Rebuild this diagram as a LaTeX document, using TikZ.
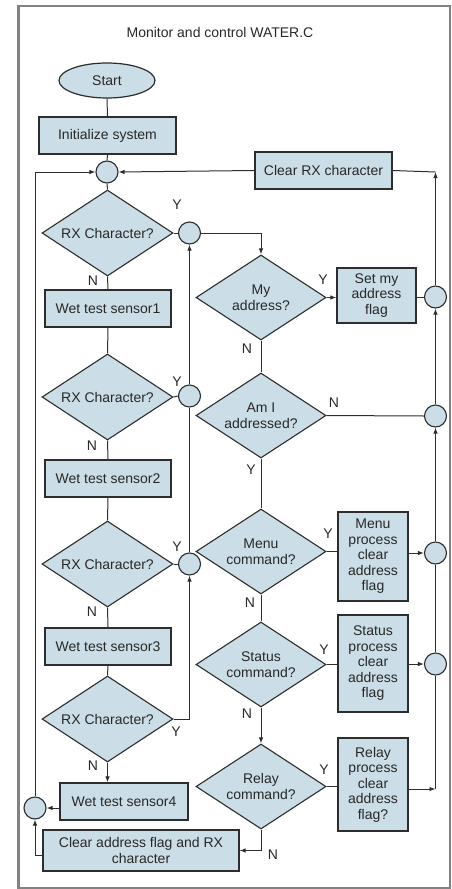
\documentclass[tikz,border=0pt]{standalone}
\usepackage{fontspec}
\setmainfont{Liberation Sans}
\usetikzlibrary{shapes.geometric,arrows.meta}
\definecolor{fillc}{RGB}{203,221,230}
\definecolor{linec}{RGB}{45,45,45}
\definecolor{textc}{RGB}{40,40,40}
\definecolor{framec}{RGB}{130,130,130}
\begin{document}
\begin{tikzpicture}[x=1pt,y=-1pt,
  every node/.style={text=textc,font=\fontsize{14}{15.5}\selectfont},
  pbox/.style={draw=linec,fill=fillc,line width=1.2pt,inner sep=0pt,align=center},
  dbox/.style={draw=linec,fill=fillc,line width=1.1pt,inner sep=0pt,align=center,shape=diamond,aspect=1.5},
  cbox/.style={draw=linec,fill=fillc,line width=1.1pt,inner sep=0pt,shape=circle,minimum size=22pt},
  conn/.style={draw=linec,line width=1pt},
  arr/.style={conn,-{Latex[length=6pt,width=4.5pt]}},
  lbl/.style={inner sep=0pt}]
\useasboundingbox (0,0) rectangle (452,889);
\draw[framec,line width=2.5pt] (18.5,6) rectangle (450,888);
\node (title) at (220,32) {Monitor and control WATER.C};
% left column
\node[pbox,shape=ellipse,minimum width=96pt,minimum height=35pt] (start) at (107,80.5) {Start};
\node[pbox,minimum width=137pt,minimum height=37pt] (init) at (107.5,135.5) {Initialize system};
\node[cbox] (c1) at (107,172) {};
\node[pbox,minimum width=137pt,minimum height=37pt] (clrx) at (323.5,170.5) {Clear RX character};
\node[dbox,minimum width=131pt,minimum height=86pt] (d1) at (107.5,233) {RX Character?};
\node[cbox] (c2) at (189.5,233) {};
\node[pbox,minimum width=126pt,minimum height=37pt] (s1) at (108,308.5) {Wet test sensor1};
\node[dbox,minimum width=131pt,minimum height=86pt] (d2) at (107.5,397) {RX Character?};
\node[cbox] (c3) at (189.5,396) {};
\node[pbox,minimum width=126pt,minimum height=37pt] (s2) at (108,478.5) {Wet test sensor2};
\node[dbox,minimum width=131pt,minimum height=86pt] (d3) at (107.5,564) {RX Character?};
\node[cbox] (c4) at (189.5,564) {};
\node[pbox,minimum width=126pt,minimum height=37pt] (s3) at (108,646.5) {Wet test sensor3};
\node[dbox,minimum width=131pt,minimum height=86pt] (d4) at (107.5,719) {RX Character?};
\node[pbox,minimum width=128pt,minimum height=37pt] (s4) at (124,801.5) {Wet test sensor4};
\node[cbox] (c5) at (35,808) {};
\node[pbox,minimum width=196pt,minimum height=41pt] (clraddr) at (141,850.5) {Clear address flag and RX\\character};
% right column
\node[dbox,minimum width=130pt,minimum height=85pt] (dmy) at (261,297.5) {My\\address?};
\node[pbox,minimum width=79pt,minimum height=55pt] (setmy) at (376.5,295.5) {Set my\\address\\flag};
\node[cbox] (cmy) at (435.5,297) {};
\node[dbox,minimum width=130pt,minimum height=85pt] (dam) at (261,415.5) {Am I\\addressed?};
\node[cbox] (cam) at (435.5,416) {};
\node[dbox,minimum width=130pt,minimum height=85pt] (dmenu) at (261,551.5) {Menu\\command?};
\node[pbox,minimum width=70pt,minimum height=89pt] (menub) at (373,556.5) {Menu\\process\\clear\\address\\flag};
\node[cbox] (cmenu) at (435.5,553) {};
\node[dbox,minimum width=130pt,minimum height=85pt] (dstat) at (261,664.5) {Status\\command?};
\node[pbox,minimum width=70pt,minimum height=97pt] (statb) at (373,663.5) {Status\\process\\clear\\address\\flag};
\node[cbox] (cstat) at (435.5,664) {};
\node[dbox,minimum width=130pt,minimum height=85pt] (drelay) at (261,786.5) {Relay\\command?};
\node[pbox,minimum width=70pt,minimum height=93pt] (relayb) at (373,784.5) {Relay\\process\\clear\\address\\flag?};
\coordinate (ctop) at (435.5,172);
\coordinate (rr) at (435.5,789);
\coordinate (cl) at (0,855);
% connectors left
\draw[conn] (start.south) -- (init.north);
\draw[conn] (init.south) -- (c1.north);
\draw[conn] (c1.south) -- (d1.north);
\draw[conn] (d1.east) -- (c2.west);
\draw[conn] (d1.south) -- (s1.north);
\draw[conn] (s1.south) -- (d2.north);
\draw[conn] (d2.east) -- (c3.west);
\draw[arr] (c3.north) -- (c2.south);
\draw[conn] (d2.south) -- (s2.north);
\draw[conn] (s2.south) -- (d3.north);
\draw[conn] (d3.east) -- (c4.west);
\draw[conn] (c4.north) -- (c3.south);
\draw[conn] (d3.south) -- (s3.north);
\draw[conn] (s3.south) -- (d4.north);
\draw[arr] (d4.east) -| (c4.south);
\draw[arr] (d4.south) -- (d4.south |- s4.north);
\draw[arr] (s4.west |- c5) -- (c5.east);
\draw[arr] (clraddr.west |- cl) -| (c5.south);
\draw[arr] (c5.north) |- (c1.west);
\draw[arr] (clrx.west) -- (c1.east);
% connectors right
\draw[arr] (c2.east) -| (dmy.north);
\draw[arr] (dmy.east) -- (dmy.east -| setmy.west);
\draw[conn] (setmy.east |- cmy) -- (cmy.west);
\draw[conn] (dmy.south) -- (dam.north);
\draw[conn] (dam.east) -- (cam.west);
\draw[conn] (dam.south) -- (dmenu.north);
\draw[conn] (dmenu.east) -- (dmenu.east -| menub.west);
\draw[arr] (menub.east |- cmenu) -- (cmenu.west);
\draw[conn] (dmenu.south) -- (dstat.north);
\draw[conn] (dstat.east) -- (dstat.east -| statb.west);
\draw[arr] (statb.east |- cstat) -- (cstat.west);
\draw[arr] (dstat.south) -- (drelay.north);
\draw[conn] (drelay.east) -- (drelay.east -| relayb.west);
\draw[arr] (relayb.east |- rr) -- (rr);
\draw[arr] (drelay.south) |- (clraddr.east);
\draw[conn] (rr) -- (cstat.south);
\draw[conn] (cstat.north) -- (cmenu.south);
\draw[arr] (cmenu.north) -- (cam.south);
\draw[arr] (cam.north) -- (cmy.south);
\draw[arr] (cmy.north) -- (ctop);
\draw[conn] (clrx.east) -- (ctop);
% labels
\node[lbl] (y1) at (177,205) {Y};
\node[lbl] (n1) at (93,281) {N};
\node[lbl] (y2) at (177,382) {Y};
\node[lbl] (n2) at (92,446) {N};
\node[lbl] (y3) at (177,547) {Y};
\node[lbl] (n3) at (92,612) {N};
\node[lbl] (y4) at (176,732) {Y};
\node[lbl] (n4) at (93,766) {N};
\node[lbl] (y5) at (323,280) {Y};
\node[lbl] (n5) at (247,349) {N};
\node[lbl] (n6) at (334,403) {N};
\node[lbl] (y6) at (251,470) {Y};
\node[lbl] (y7) at (328,534) {Y};
\node[lbl] (n7) at (250,603) {N};
\node[lbl] (y8) at (324,650) {Y};
\node[lbl] (n8) at (247,714) {N};
\node[lbl] (y9) at (324,770) {Y};
\node[lbl] (n9) at (273,855) {N};
\end{tikzpicture}
\end{document}
